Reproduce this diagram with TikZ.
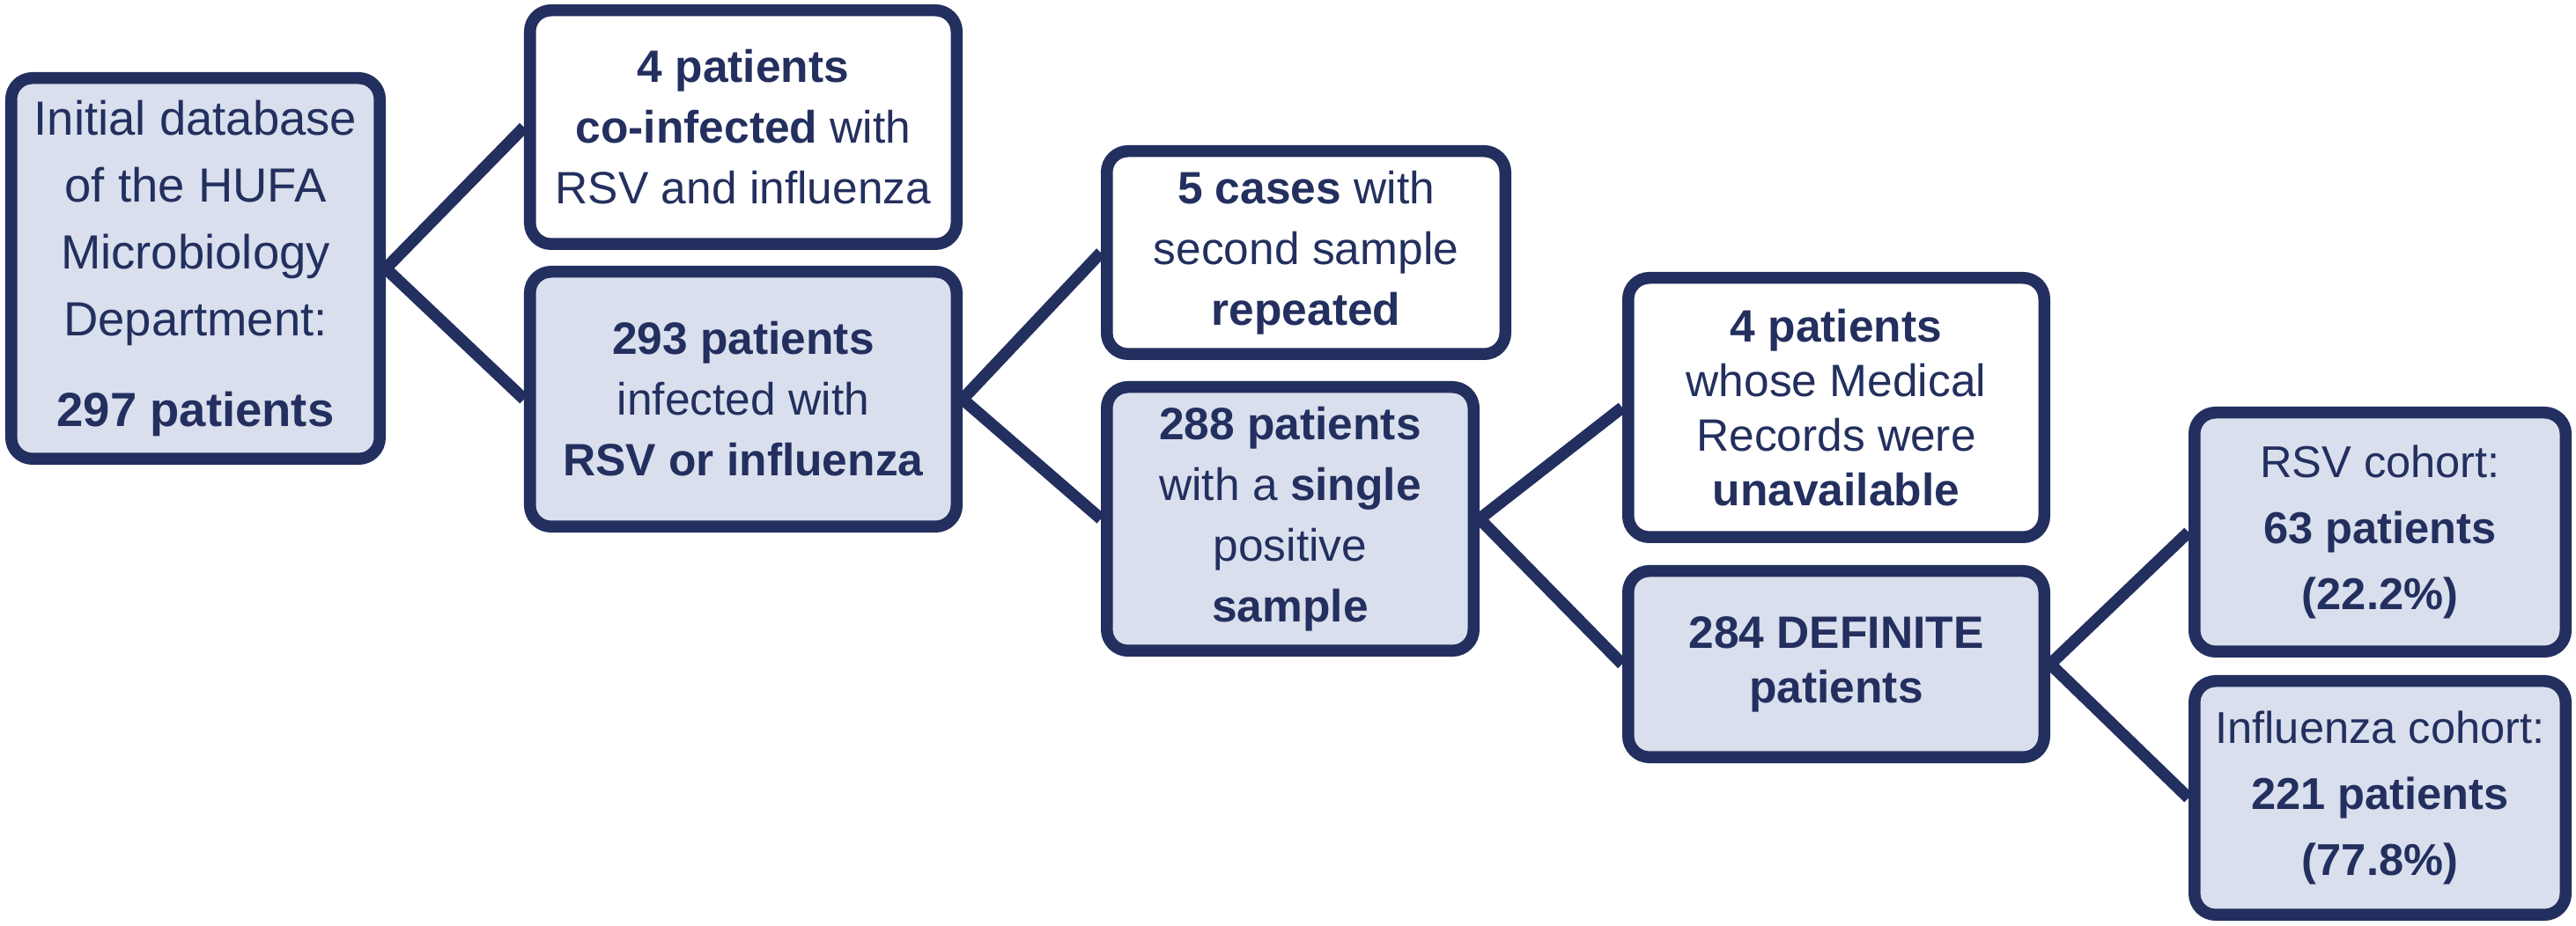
\documentclass[tikz,border=0pt]{standalone}
\usepackage{fontspec}
\setmainfont{Liberation Sans}
\usepackage{xcolor}
\usepackage{tikz}
\usetikzlibrary{positioning, calc}

\definecolor{navy}{RGB}{35,47,94}
\definecolor{paleblue}{RGB}{217,223,237}

\begin{document}
\begin{tikzpicture}[
        line width=3.85pt, line join=round,
        stage/.style={draw=navy, rounded corners=0.24cm, inner sep=0pt, align=center, text=navy,
            font=\fontsize{14.65pt}{19.6pt}\selectfont},
        kept/.style={stage, fill=paleblue},
        dropped/.style={stage, fill=white},
        link/.style={draw=navy}
    ]
        \useasboundingbox (0,0) rectangle (29.25,10.52);

        % Initial database
        \node[kept, minimum width=4.185cm, minimum height=4.325cm,
            font=\fontsize{15.5pt}{21.6pt}\selectfont] (initial) at (2.22,7.47)
            {Initial database\\of the HUFA\\Microbiology\\Department:\\[0.27cm]\textbf{297 patients}};

        % First split
        \node[dropped, minimum width=4.845cm, minimum height=2.655cm] (coinf) at (8.44,9.075)
            {\textbf{4 patients}\\\textbf{co-infected} with\\RSV and influenza};
        \node[kept, minimum width=4.845cm, minimum height=2.895cm] (infected) at (8.44,5.985)
            {\textbf{293 patients}\\infected with\\\textbf{RSV or influenza}};

        % Second split
        \node[dropped, minimum width=4.525cm, minimum height=2.305cm] (repeat) at (14.83,7.65)
            {\textbf{5 cases} with\\second sample\\\textbf{repeated}};
        \node[kept, minimum width=4.165cm, minimum height=2.995cm] (single) at (14.65,4.625)
            {\textbf{288 patients}\\with a \textbf{single}\\positive\\\textbf{sample}};

        % Third split
        \node[dropped, minimum width=4.725cm, minimum height=2.945cm,
            font=\fontsize{14.65pt}{17.6pt}\selectfont] (unavail) at (20.85,5.89)
            {\textbf{4 patients}\\whose Medical\\Records were\\\textbf{unavailable}};
        \node[kept, minimum width=4.725cm, minimum height=2.115cm,
            font=\fontsize{14.65pt}{17.6pt}\selectfont] (definite) at (20.85,2.975)
            {\textbf{284 DEFINITE}\\\textbf{patients}};

        % Cohorts
        \node[kept, minimum width=4.215cm, minimum height=2.715cm,
            font=\fontsize{14.4pt}{21.3pt}\selectfont] (rsv) at (27.025,4.475)
            {RSV cohort:\\\textbf{63 patients}\\\textbf{(22.2\%)}};
        \node[kept, minimum width=4.215cm, minimum height=2.655cm,
            font=\fontsize{14.4pt}{21.3pt}\selectfont] (flu) at (27.025,1.455)
            {Influenza cohort:\\\textbf{221 patients}\\\textbf{(77.8\%)}};

        % Connectors
        \draw[link] (coinf.west) -- (initial.east) -- (infected.west);
        \draw[link] (repeat.west) -- (infected.east) -- (single.west);
        \draw[link] (unavail.west) -- (single.east) -- (definite.west);
        \draw[link] (rsv.west) -- (definite.east) -- (flu.west);
    \end{tikzpicture}
\end{document}
